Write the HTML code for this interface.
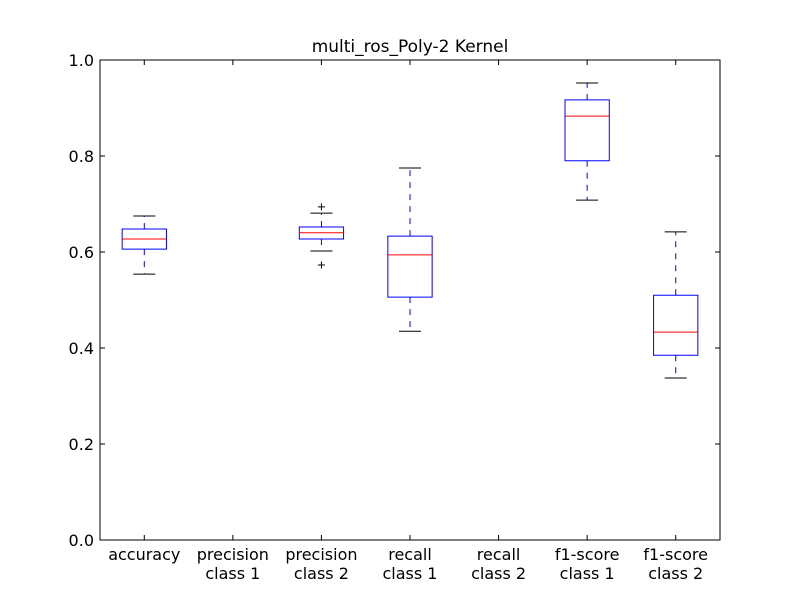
<!DOCTYPE html>
<html><head><meta charset="utf-8"><style>
body{margin:0;background:#fff;}
svg text{font-family:"DejaVu Sans","Liberation Sans",sans-serif;}
</style></head><body>
<svg id="chart" width="800" height="600" xmlns="http://www.w3.org/2000/svg">
<rect width="800" height="600" fill="#fff"/>
<g id="plot"></g>
</svg>
<script>
const categories=["accuracy","precision\nclass 1","precision\nclass 2","recall\nclass 1","recall\nclass 2","f1-score\nclass 1","f1-score\nclass 2"];
const whiskerLow=[0.554,0,0.602,0.435,0,0.708,0.3375];
const q1=[0.606,0,0.627,0.506,0,0.790,0.385];
const median=[0.627,0,0.640,0.594,0,0.883,0.433];
const q3=[0.648,0,0.652,0.633,0,0.917,0.510];
const whiskerHigh=[0.675,0,0.681,0.775,0,0.952,0.642];
const outliers=[[],[],[0.694,0.573],[],[],[],[]];
const yTicks=[0,0.2,0.4,0.6,0.8,1.0];
const yTickLabels=["0.0","0.2","0.4","0.6","0.8","1.0"];

const L=100,R=720,T=60,B=540;
const y=v=>B-(v-0)/(1-0)*(B-T);
const step=(R-L)/categories.length;
const x=i=>L+(i+0.5)*step;
const g=document.getElementById('plot');
const NS="http://www.w3.org/2000/svg";
function mk(tag,attrs,parent){const e=document.createElementNS(NS,tag);for(const k in attrs)e.setAttribute(k,attrs[k]);(parent||g).appendChild(e);return e;}

const t=mk('text',{x:410,y:52,'text-anchor':'middle','font-size':17});
t.textContent="multi_ros_Poly-2 Kernel";



yTicks.forEach((v,i)=>{
  const yy=y(v);
  const tk=mk('path',{d:`M${L},${yy}h5M${R},${yy}h-5`,stroke:'#000','stroke-width':1});
  
  
  const lb=mk('text',{x:L-6,y:yy+6,'text-anchor':'end','font-size':16});
  lb.textContent=yTickLabels[i];
  
  
});

categories.forEach((c,i)=>{
  const cx=x(i);
  const grp=mk('g',{});
  
  
  const hw=step*0.25, cw=11;
  mk('path',{d:`M${cx},${y(q1[i])}V${y(whiskerLow[i])}M${cx},${y(q3[i])}V${y(whiskerHigh[i])}`,stroke:'#0000ff','stroke-dasharray':'6,6',fill:'none'},grp);
  mk('path',{d:`M${cx-cw},${y(whiskerLow[i])}h${2*cw}M${cx-cw},${y(whiskerHigh[i])}h${2*cw}`,stroke:'#000',fill:'none'},grp);
  mk('path',{d:`M${cx-hw},${y(q3[i])}H${cx+hw}V${y(q1[i])}H${cx-hw}Z`,fill:'none',stroke:'#0000ff'},grp);
  mk('path',{d:`M${cx-hw},${y(median[i])}h${2*hw}`,stroke:'#ff0000',fill:'none'},grp);
  outliers[i].forEach(o=>{
    const p=mk('path',{d:`M${cx-3.5},${y(o)}h7M${cx},${y(o)-3.5}v7`,stroke:'#000'},grp);
    
    
  });
  const tk=mk('path',{d:`M${cx},${B}v-5M${cx},${T}v5`,stroke:'#000'});
  
  
  const lines=c.split("\n");
  const lb=mk('text',{x:cx,y:B+20,'text-anchor':'middle','font-size':16});
  
  
  lines.forEach((ln,j)=>{const ts=mk('tspan',{x:cx,dy:j?19:0},lb);ts.textContent=ln;});
});

const frame=mk('rect',{x:L,y:T,width:R-L,height:B-T,fill:'none',stroke:'#000','stroke-width':1});


</script>
</body></html>
